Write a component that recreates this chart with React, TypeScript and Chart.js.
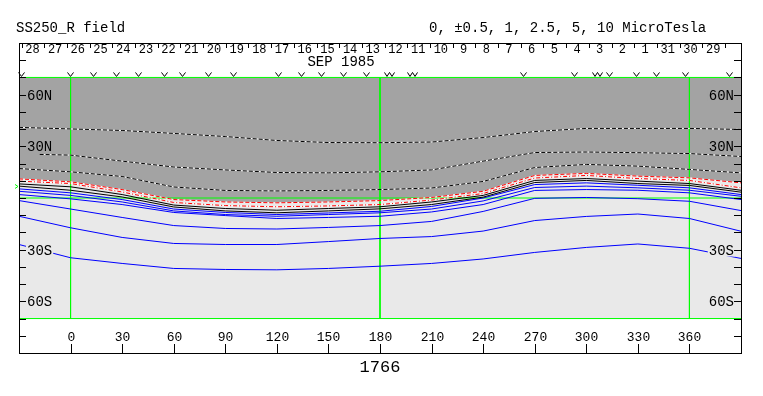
import React, { useEffect, useRef } from "react";
import { Chart, registerables } from "chart.js";

Chart.register(...registerables);

// ---------- data ----------
const LONS = [-30, 0, 30, 60, 90, 120, 150, 180, 210, 240, 270, 300, 330, 360, 390];
const D2_LONS = [-18, 0, 30, 60, 90, 120, 150, 180, 210, 240, 270, 300, 330, 360, 390];

// negative (dashed) contours
const NEG_A = [41.0, 40.1, 39.2, 37.5, 35.7, 33.4, 32.2, 32.1, 32.5, 35.1, 38.6, 40.4, 40.4, 40.4, 39.8];
const NEG_B = [25.3, 24.9, 21.4, 18.0, 16.3, 14.8, 14.6, 15.2, 16.3, 21.4, 26.4, 26.7, 26.3, 25.8, 24.1];
const NEG_C = [17.1, 15.2, 12.5, 6.4, 4.4, 4.1, 4.4, 4.9, 5.8, 9.6, 17.7, 19.5, 18.5, 16.6, 14.6];
// neutral line (red dashed) and +-0.5 (red dash-dot)
const NEUTRAL = [11.1, 9.4, 4.9, -0.9, -2.3, -2.8, -2.3, -1.5, 0.3, 3.9, 13.1, 14.3, 12.7, 11.7, 8.8];
const HALF = [9.8, 8.4, 3.5, -2.6, -4.4, -5.1, -4.6, -3.8, -1.2, 2.6, 11.6, 13.1, 11.3, 10.2, 5.9];
// black contours
const BLACK_A = [8.2, 6.5, 2.0, -4.1, -6.1, -7.1, -6.1, -5.1, -2.3, 1.5, 10.2, 11.3, 9.8, 8.4, 4.5];
const BLACK_B = [6.9, 4.5, 0.6, -5.2, -7.5, -8.6, -7.5, -6.3, -3.8, 0.5, 9.0, 10.2, 8.4, 7.3, 3.4];
// blue contours
const BLUE_1 = [5.3, 3.0, -0.9, -6.4, -8.4, -9.6, -8.7, -7.7, -4.9, 0.0, 7.8, 8.8, 7.4, 5.9, 2.0];
const BLUE_2 = [3.9, 1.5, -2.3, -7.5, -9.6, -10.6, -9.6, -8.6, -6.4, -1.7, 6.1, 6.9, 5.9, 4.5, 1.0];
const BLUE_3 = [2.0, -0.5, -3.8, -8.4, -10.2, -11.9, -11.3, -10.6, -8.1, -3.8, 4.4, 4.9, 4.5, 3.0, -0.9];
const BLUE_4 = [-1.5, -6.4, -11.3, -16.0, -17.7, -18.0, -17.1, -16.0, -13.6, -7.8, -0.2, 0.3, -0.4, -1.9, -7.3];
const BLUE_5 = [-10.6, -17.3, -22.9, -26.4, -27.0, -27.0, -25.3, -23.5, -22.4, -19.2, -13.1, -10.7, -9.3, -11.9, -19.3];
const BLUE_6 = [-27.0, -34.7, -38.0, -40.9, -41.5, -41.7, -40.9, -39.6, -38.0, -35.4, -31.6, -28.7, -26.7, -29.2, -35.1];

// axes / labels
const LAT_TICKS = [-80, -70, -60, -50, -40, -30, -20, -10, 0, 10, 20, 30, 40, 50, 60, 70, 80];
const LAT_LABEL_VALUES = [60, 30, -30, -60];
const LAT_LABEL_TEXT = ["60N", "30N", "30S", "60S"];
const LON_TICKS = [0, 30, 60, 90, 120, 150, 180, 210, 240, 270, 300, 330, 360];
const GRID_LONS = [0, 180, 360];
const DAY_LABELS = ["28", "27", "26", "25", "24", "23", "22", "21", "20", "19", "18", "17", "16", "15", "14", "13", "12", "11", "10", "9", "8", "7", "6", "5", "4", "3", "2", "1", "31", "30", "29"];
const DAY_START_LON = -28.5;
const DAY_STEP_DEG = 13.2;
const MARK_LONS = [-29.1, -0.6, 12.8, 26.7, 39.5, 54.6, 65.1, 79.7, 94.2, 120.4, 134.3, 145.4, 158.2, 172.1, 185.5, 198.9, 262.9, 292.6, 306, 313.5, 329.2, 340.8, 357.7, 383.3];
const MARK_TYPES = ["v", "v", "v", "v", "v", "v", "v", "v", "v", "v", "v", "v", "v", "v", "w", "w", "v", "v", "w", "v", "v", "v", "v", "v"];
const MAP_LAT = 70;
const B0_LAT = 6.7;
const TITLE = "SS250_R field";
const LEGEND = "0, \u00b10.5, 1, 2.5, 5, 10 MicroTesla";
const MONTH = "SEP 1985";
const ROTATION = "1766";

// ---------- styles ----------
const DARK = "#a3a3a3";
const LIGHT = "#e9e9e9";
const GREEN = "#00ff00";
const BLUE = "#0000ff";
const RED = "#ff0000";
const FONT = "'Liberation Mono', 'DejaVu Sans Mono', monospace";

const pts = (xs: number[], ys: number[]) => xs.map((x, i) => ({ x, y: ys[i] }));

export default function App() {
  const ref = useRef<HTMLCanvasElement>(null);

  useEffect(() => {
    const canvas = ref.current;
    if (!canvas) return;

    const line = (data: any, color: string, order: number, dash: number[] = []) => ({
      data,
      borderColor: color,
      borderWidth: 1,
      borderDash: dash,
      pointRadius: 0,
      tension: 0,
      fill: false,
      order,
    });

    const datasets: any[] = [];
    // dark-gray region above neutral line
    datasets.push({
      data: pts(LONS, NEUTRAL),
      borderColor: "rgba(0,0,0,0)",
      borderWidth: 0,
      pointRadius: 0,
      tension: 0,
      fill: { value: MAP_LAT },
      backgroundColor: DARK,
      order: 100,
    });
    // green grid
    datasets.push(line([{ x: -30, y: 0 }, { x: 390, y: 0 }], GREEN, 50));
    datasets.push(line([{ x: -30, y: MAP_LAT }, { x: 390, y: MAP_LAT }], GREEN, 50));
    datasets.push(line([{ x: -30, y: -MAP_LAT }, { x: 390, y: -MAP_LAT }], GREEN, 50));
    GRID_LONS.forEach((g) => datasets.push(line([{ x: g, y: MAP_LAT }, { x: g, y: -MAP_LAT }], GREEN, 50)));

    // dashed lines: white underlay + dashes
    const dashed: [any, string, number[]][] = [
      [pts(LONS, NEG_A), "#000000", [4, 2]],
      [pts(D2_LONS, NEG_B), "#000000", [4, 2]],
      [pts(LONS, NEG_C), "#000000", [4, 2]],
      [pts(LONS, NEUTRAL), RED, [4, 2]],
      [pts(LONS, HALF), RED, [4, 2, 1, 2]],
    ];
    dashed.forEach(([d, c, dash]) => {
      datasets.push(line(d, "#ffffff", 20));
      datasets.push(line(d, c, 10, dash));
    });
    datasets.push(line(pts(LONS, BLACK_A), "#000000", 10));
    datasets.push(line(pts(LONS, BLACK_B), "#000000", 10));
    [BLUE_1, BLUE_2, BLUE_3, BLUE_4, BLUE_5, BLUE_6].forEach((b) => datasets.push(line(pts(LONS, b), BLUE, 10)));

    const deco = {
      id: "deco",
      beforeDatasetsDraw(chart: any) {
        const { ctx, chartArea: a, scales } = chart;
        const y = scales.y;
        ctx.save();
        ctx.fillStyle = LIGHT;
        const t = y.getPixelForValue(MAP_LAT);
        const b = y.getPixelForValue(-MAP_LAT);
        ctx.fillRect(a.left, t, a.right - a.left, b - t);
        ctx.restore();
      },
      afterDatasetsDraw(chart: any) {
        const { ctx, chartArea: a, scales } = chart;
        const x = scales.x;
        const y = scales.y;
        ctx.save();
        ctx.strokeStyle = "#000";
        ctx.fillStyle = "#000";
        ctx.lineWidth = 1;

        // latitude labels with background
        ctx.font = `14px ${FONT}`;
        ctx.textBaseline = "middle";
        LAT_LABEL_VALUES.forEach((lat, i) => {
          const py = Math.round(y.getPixelForValue(lat)) + 0.5;
          const txt = LAT_LABEL_TEXT[i];
          const w = ctx.measureText(txt).width;
          ctx.fillStyle = lat > 0 ? DARK : LIGHT;
          ctx.fillRect(a.left + 7, py - 6, w + 2, 12);
          ctx.fillRect(a.right - 8 - w, py - 6, w + 2, 12);
          ctx.fillStyle = "#000";
          ctx.textAlign = "left";
          ctx.fillText(txt, a.left + 8, py + 1);
          ctx.textAlign = "right";
          ctx.fillText(txt, a.right - 7, py + 1);
        });

        // latitude ticks
        ctx.beginPath();
        LAT_TICKS.forEach((lat) => {
          const py = Math.round(y.getPixelForValue(lat)) + 0.5;
          ctx.moveTo(a.left, py);
          ctx.lineTo(a.left + 7, py);
          ctx.moveTo(a.right, py);
          ctx.lineTo(a.right - 7, py);
        });
        ctx.stroke();

        // longitude ticks + labels
        ctx.font = `13px ${FONT}`;
        ctx.textAlign = "center";
        ctx.textBaseline = "middle";
        ctx.beginPath();
        LON_TICKS.forEach((lon) => {
          const px = Math.round(x.getPixelForValue(lon)) + 0.5;
          ctx.moveTo(px, a.bottom);
          ctx.lineTo(px, a.bottom - 9);
          ctx.fillText(String(lon), px, a.bottom - 15);
        });
        ctx.stroke();

        // frame
        ctx.strokeRect(Math.round(a.left) + 0.5, Math.round(a.top) + 0.5, Math.round(a.right - a.left), Math.round(a.bottom - a.top));

        // day ticks and labels
        ctx.font = `12px ${FONT}`;
        ctx.beginPath();
        for (let i = 0; i <= DAY_LABELS.length; i++) {
          const px = Math.round(x.getPixelForValue(DAY_START_LON + i * DAY_STEP_DEG)) + 0.5;
          ctx.moveTo(px, a.top + 1);
          ctx.lineTo(px, a.top + 5);
        }
        ctx.stroke();
        DAY_LABELS.forEach((d, i) => {
          const px = x.getPixelForValue(DAY_START_LON + (i + 0.5) * DAY_STEP_DEG) - 0.5;
          ctx.fillText(d, px, a.top + 7);
        });
        ctx.font = `14px ${FONT}`;
        ctx.fillText(MONTH, 341, a.top + 19);

        // observation markers
        ctx.beginPath();
        const my = y.getPixelForValue(MAP_LAT);
        MARK_LONS.forEach((lon, i) => {
          const cx = Math.round(x.getPixelForValue(lon)) + 0.5;
          if (MARK_TYPES[i] === "w") {
            ctx.moveTo(cx - 5, my - 5);
            ctx.lineTo(cx - 2.5, my - 1);
            ctx.lineTo(cx, my - 5);
            ctx.lineTo(cx + 2.5, my - 1);
            ctx.lineTo(cx + 5, my - 5);
          } else {
            ctx.moveTo(cx - 3, my - 5);
            ctx.lineTo(cx, my - 1);
            ctx.lineTo(cx + 3, my - 5);
          }
        });
        ctx.stroke();

        // B0 marker
        const by = y.getPixelForValue(B0_LAT);
        ctx.strokeStyle = GREEN;
        ctx.beginPath();
        ctx.moveTo(a.left - 4, by - 2);
        ctx.lineTo(a.left - 1, by);
        ctx.lineTo(a.left - 4, by + 2);
        ctx.stroke();

        // texts
        ctx.fillStyle = "#000";
        ctx.font = `14px ${FONT}`;
        ctx.textAlign = "left";
        ctx.fillText(TITLE, 16, 28);
        ctx.fillText(LEGEND, 429, 28);
        ctx.font = `17px ${FONT}`;
        ctx.textAlign = "center";
        ctx.fillText(ROTATION, x.getPixelForValue(180), 367);
        ctx.restore();
      },
    };

    const chart = new Chart(canvas, {
      type: "line",
      data: { datasets },
      options: {
        animation: false,
        responsive: false,
        devicePixelRatio: 1,
        layout: { padding: { left: 19, right: 22, top: 43, bottom: 43 } },
        scales: {
          x: { type: "linear", min: -30, max: 390, display: false },
          y: { type: "linear", min: -90, max: 90, display: false },
        },
        plugins: { legend: { display: false }, tooltip: { enabled: false } },
        events: [],
      },
      plugins: [deco],
    } as any);

    return () => chart.destroy();
  }, []);

  return (
    <div style={{ position: "absolute", left: 0, top: 0, width: 763, height: 396, background: "#fff" }}>
      <canvas ref={ref} width={763} height={396} style={{ display: "block", width: 763, height: 396 }} />
    </div>
  );
}
